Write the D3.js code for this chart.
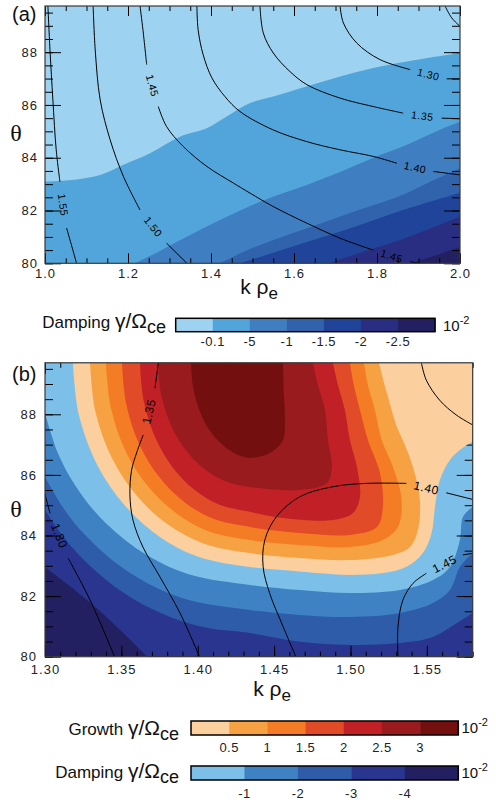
<!DOCTYPE html>
<html><head><meta charset="utf-8">
<script src="https://cdn.jsdelivr.net/npm/d3@7"></script>
<style>
html,body{margin:0;padding:0;background:#fff;}
svg{display:block;font-family:"Liberation Sans",Arial,sans-serif;}
</style></head><body>
<svg id="chart" width="496" height="803"></svg>
<script>
// ================= DATA =================
// ---- panel (a) ----
const kDomainA = [1.0, 2.0];
const thetaDomainA = [80, 89.75];
const kTicksA = [1.0, 1.2, 1.4, 1.6, 1.8, 2.0];
const thetaTicks = [80, 82, 84, 86, 88];
const dampLabelsA = ["-0.1", "-5", "-1", "-1.5", "-2", "-2.5"];
const dampColorsA = ["#9dd3f1", "#52a5db", "#3f7ec1", "#3063ac", "#1f4499", "#292e82", "#222060"];
// band boundaries (k, theta): region below/right of boundary i takes colour i+1
const bandBoundariesA = [
  [[1.0,83.10],[1.064,83.16],[1.133,83.35],[1.189,83.73],[1.253,84.17],[1.325,84.80],[1.390,85.12],[1.438,85.56],[1.494,86.07],[1.550,86.32],[1.630,86.70],[1.711,87.08],[1.791,87.40],[1.872,87.65],[2.0,87.97]],
  [[1.217,80.0],[1.277,80.47],[1.373,81.26],[1.494,82.17],[1.549,82.52],[1.631,82.97],[1.711,83.46],[1.790,83.99],[1.872,84.49],[1.952,85.06],[2.0,85.36]],
  [[1.422,80.0],[1.494,80.54],[1.614,81.23],[1.735,81.91],[1.855,82.55],[1.93,83.1],[2.0,83.6]],
  [[1.47,80.0],[1.55,80.4],[1.65,80.9],[1.75,81.4],[1.85,81.95],[2.0,82.67]],
  [[1.687,80.0],[1.75,80.35],[1.85,80.85],[1.95,81.45],[2.0,81.76]],
  [[1.88,80.0],[1.94,80.3],[2.0,80.62]]
];
// frequency contour lines; label goes into each gap between segments
const contourLinesA = [
  {level:1.55, segments:[[[1.007,89.75],[1.012,88.09],[1.019,86.19],[1.027,84.30],[1.036,83.09]],[[1.052,81.34],[1.065,80.62],[1.076,80.0]]]},
  {level:1.50, segments:[[[1.116,89.75],[1.121,88.09],[1.133,86.19],[1.157,84.68],[1.189,83.29],[1.229,82.02]],[[1.293,80.76],[1.342,80.0]]]},
  {level:1.45, segments:[[[1.229,89.75],[1.236,88.85],[1.245,87.53]],[[1.273,85.94],[1.293,85.18],[1.333,84.43],[1.390,83.67],[1.454,83.04],[1.494,82.66],[1.550,82.15],[1.631,81.52],[1.711,80.95],[1.791,80.50]],[[1.880,80.06],[1.904,80.0]]]},
  {level:1.40, segments:[[[1.366,89.75],[1.369,88.85],[1.381,87.91],[1.402,87.03],[1.434,86.31],[1.470,85.75],[1.549,85.06],[1.631,84.61],[1.711,84.30],[1.791,84.05],[1.848,83.79]],[[1.936,83.48],[2.0,83.35]]]},
  {level:1.35, segments:[[[1.518,89.75],[1.526,88.73],[1.550,87.97],[1.590,87.27],[1.631,86.77],[1.711,86.26],[1.791,85.94],[1.863,85.69]],[[1.956,85.50],[2.0,85.48]]]},
  {level:1.30, segments:[[[1.711,89.75],[1.719,89.11],[1.751,88.35],[1.807,87.72],[1.880,87.34]],[[1.968,86.99],[2.0,86.99]]]},
  {level:1.25, segments:[[[1.964,89.75],[1.980,89.30],[2.0,88.98]]]}
];

// ---- panel (b) ----
const kDomainB = [1.30, 1.58];
const thetaDomainB = [80, 89.7];
const kTicksB = [1.30, 1.35, 1.40, 1.45, 1.50, 1.55];
const growthLabels = ["0.5", "1", "1.5", "2", "2.5", "3"];
const growthColors = ["#fccf9e", "#f6a243", "#f47c24", "#e14b27", "#c02026", "#9a1b1e", "#73100f"];
const dampLabelsB = ["-1", "-2", "-3", "-4"];
const dampColorsB = ["#7cc0ea", "#3f82c4", "#2f5ca9", "#29358e", "#222060"];
// growth contours gamma = 0, 0.5, ... 3 (x 1e-2)
const growthBoundaries = [
  {level:0.0, pts:[[1.3183,89.7],[1.3221,88.00],[1.3343,86.32],[1.3524,84.98],[1.3747,83.97],[1.4003,83.30],[1.4342,82.96],[1.4558,82.86],[1.4778,82.76],[1.4996,82.70],[1.5212,82.76],[1.5367,82.97],[1.5474,83.42],[1.5531,84.08],[1.5553,84.94],[1.5585,85.83],[1.5651,86.49],[1.5716,86.82],[1.58,87.10]]},
  {level:0.5, pts:[[1.3295,89.7],[1.3329,88.11],[1.3439,86.55],[1.3603,85.30],[1.3805,84.36],[1.4037,83.74],[1.4342,83.42],[1.4669,83.26],[1.4996,83.19],[1.5278,83.36],[1.5389,83.62],[1.5441,84.18],[1.5454,85.17],[1.5409,86.26],[1.5356,86.99],[1.5304,87.58],[1.5238,88.70],[1.5186,89.7]]},
  {level:1.0, pts:[[1.3399,89.7],[1.3431,88.22],[1.3530,86.76],[1.3678,85.60],[1.3861,84.73],[1.4070,84.14],[1.4342,83.85],[1.4669,83.69],[1.4996,83.62],[1.5212,83.85],[1.5310,84.28],[1.5335,85.17],[1.5278,86.26],[1.5204,87.15],[1.5160,88.14],[1.5114,88.97],[1.5088,89.7]]},
  {level:1.5, pts:[[1.3504,89.7],[1.3532,88.33],[1.3620,86.98],[1.3753,85.90],[1.3916,85.09],[1.4103,84.55],[1.4342,84.28],[1.4669,84.08],[1.4996,84.02],[1.5173,84.28],[1.5212,84.94],[1.5193,86.06],[1.5114,87.15],[1.5062,88.14],[1.5022,88.97],[1.4996,89.7]]},
  {level:2.0, pts:[[1.3622,89.7],[1.3646,88.45],[1.3723,87.22],[1.3837,86.24],[1.3978,85.51],[1.4139,85.02],[1.4342,84.78],[1.4558,84.58],[1.4885,84.51],[1.5016,84.74],[1.5062,85.27],[1.5042,86.26],[1.4996,87.15],[1.4963,88.14],[1.4918,88.97],[1.4885,89.7]]},
  {level:2.5, pts:[[1.3740,89.7],[1.3760,88.66],[1.3825,87.64],[1.3921,86.82],[1.4040,86.21],[1.4176,85.80],[1.4342,85.60],[1.4669,85.50],[1.4846,85.73],[1.4878,86.26],[1.4852,87.15],[1.4833,88.14],[1.4787,88.97],[1.4754,89.7]]},
  {level:3.0, pts:[[1.3956,89.7],[1.3969,88.90],[1.4012,88.12],[1.4075,87.49],[1.4154,87.03],[1.4244,86.71],[1.4342,86.56],[1.4473,86.72],[1.4558,87.15],[1.4571,87.81],[1.4564,88.64],[1.4558,89.7]]}
];
// damping contours gamma = -1, -2, -3, -4 (x 1e-2); region above/right is less damped
const dampBoundaries = [
  {level:-4, pts:[[1.300,82.96],[1.3275,81.87],[1.3478,80.95],[1.3687,79.9]]},
  {level:-3, pts:[[1.300,84.84],[1.3130,83.89],[1.3292,83.01],[1.3511,82.12],[1.3772,81.41],[1.4049,80.96],[1.4342,80.78],[1.4669,80.49],[1.4996,80.39],[1.5323,80.45],[1.5539,80.65],[1.5697,81.11],[1.58,81.44]]},
  {level:-2, pts:[[1.300,85.93],[1.3135,84.80],[1.3269,83.98],[1.3445,83.17],[1.3700,82.35],[1.3941,81.87],[1.4342,81.54],[1.4669,81.38],[1.4996,81.31],[1.5323,81.44],[1.5539,81.77],[1.5651,82.20],[1.5716,82.96],[1.58,83.42]]},
  {level:-1, pts:[[1.300,88.04],[1.3082,86.75],[1.3197,85.66],[1.3368,84.56],[1.3632,83.46],[1.3935,82.73],[1.4342,82.37],[1.4669,82.20],[1.4996,82.10],[1.5323,82.20],[1.5539,82.53],[1.5651,82.96],[1.5716,83.85],[1.5736,84.61],[1.58,84.95]]}
];
const contourLinesB = [
  {level:1.30, segments:[[[1.2995,85.45],[1.3033,84.73]],[[1.3152,83.25],[1.3295,81.87],[1.3458,79.97]]]},
  {level:1.35, segments:[[[1.4014,79.97],[1.3884,81.44],[1.3753,82.63],[1.3641,83.62],[1.3576,84.51],[1.3556,85.34],[1.3567,86.16],[1.3602,86.76],[1.3643,87.32]],[[1.3720,88.86],[1.3742,89.7]]]},
  {level:1.40, segments:[[[1.4646,79.95],[1.4559,80.99],[1.4471,82.09],[1.4428,82.97],[1.4439,83.85],[1.4515,84.62],[1.4668,85.28],[1.4885,85.61],[1.5104,85.72],[1.5366,85.72]],[[1.5627,85.41],[1.58,85.19]]]},
  {level:1.45, segments:[[[1.5311,79.95],[1.5311,80.99],[1.5343,81.87],[1.5409,82.42],[1.5496,82.75]],[[1.5736,83.36],[1.58,83.41]]]},
  {level:1.35, segments:[[[1.5464,89.7],[1.5496,89.13],[1.5583,88.47],[1.5692,87.98],[1.58,87.65]]]}
];

// ================= DRAWING =================
const svg = d3.select("#chart");

function makePanel(id, kDom, tDom, left, right, top, bottom) {
  const x = d3.scaleLinear().domain(kDom).range([left, right]);
  const y = d3.scaleLinear().domain(tDom).range([bottom, top]);
  const g = svg.append("g");
  g.append("clipPath").attr("id", id).append("rect")
    .attr("x", left).attr("y", top).attr("width", right - left).attr("height", bottom - top);
  const smooth = d3.line().x(d => x(d[0])).y(d => y(d[1])).curve(d3.curveCatmullRom.alpha(0.5));
  const region = (pts, closers) => smooth(pts) + closers.map(c => `L${x(c[0])},${y(c[1])}`).join("") + "Z";
  return {x, y, g, smooth, region, left, right, top, bottom, id};
}

function fillLayer(P) {
  return P.g.append("g").attr("clip-path", `url(#${P.id})`);
}

function drawAxes(P, o) {
  const layer = P.g.append("g");
  const strip = s => s.select(".domain").remove();
  const fmt = "";
  const add = (axis, tr) => layer.append("g").attr("transform", tr).call(axis).call(strip)
    .call(s => s.selectAll("line").attr("stroke", "#000").attr("stroke-width", 1));
  // minor ticks
  add(d3.axisBottom(P.x).tickValues(o.xMinor).tickSizeInner(-o.xMinorLen).tickSizeOuter(0).tickFormat(fmt), `translate(0,${P.bottom})`);
  add(d3.axisTop(P.x).tickValues(o.xMinor).tickSizeInner(-o.xMinorLen).tickSizeOuter(0).tickFormat(fmt), `translate(0,${P.top})`);
  add(d3.axisLeft(P.y).tickValues(o.yMinor).tickSizeInner(-o.yMinorLen).tickSizeOuter(0).tickFormat(fmt), `translate(${P.left},0)`);
  add(d3.axisRight(P.y).tickValues(o.yMinor).tickSizeInner(-o.yMinorLen).tickSizeOuter(0).tickFormat(fmt), `translate(${P.right},0)`);
  // major ticks
  const bx = add(d3.axisBottom(P.x).tickValues(o.xMajor).tickSizeInner(-o.xMajorLen).tickSizeOuter(0).tickPadding(o.xPad).tickFormat(d3.format(o.xFmt)), `translate(0,${P.bottom})`);
  add(d3.axisTop(P.x).tickValues(o.xMajor).tickSizeInner(-o.xMajorLen).tickSizeOuter(0).tickFormat(fmt), `translate(0,${P.top})`);
  const ly = add(d3.axisLeft(P.y).tickValues(o.yMajor).tickSizeInner(-o.yMajorLen).tickSizeOuter(0).tickPadding(o.yPad).tickFormat(d3.format("d")), `translate(${P.left},0)`);
  add(d3.axisRight(P.y).tickValues(o.yMajor).tickSizeInner(-o.yMajorLen).tickSizeOuter(0).tickFormat(fmt), `translate(${P.right},0)`);
  [bx, ly].forEach(s => s.attr("font-family", "'Liberation Sans', Arial, sans-serif").attr("font-size", 13)
    .selectAll("text").attr("fill", "#222").attr("letter-spacing", "1px"));
}

function drawContours(P, lines, fontSize) {
  const layer = P.g.append("g").attr("clip-path", `url(#${P.id})`);
  lines.forEach(c => {
    c.segments.forEach(seg => {
      layer.append("path").attr("d", P.smooth(seg)).attr("fill", "none")
        .attr("stroke", "#000").attr("stroke-width", 1);
    });
    for (let i = 0; i < c.segments.length - 1; i++) {
      const a = c.segments[i][c.segments[i].length - 1], b = c.segments[i + 1][0];
      const ax = P.x(a[0]), ay = P.y(a[1]), bx = P.x(b[0]), by = P.y(b[1]);
      const ang = Math.atan2(by - ay, bx - ax) * 180 / Math.PI;
      layer.append("text")
        .attr("transform", `translate(${(ax + bx) / 2},${(ay + by) / 2}) rotate(${ang})`)
        .attr("text-anchor", "middle").attr("dominant-baseline", "central")
        .attr("font-size", fontSize).attr("letter-spacing", "0.5px").attr("fill", "#000")
        .text(d3.format(".2f")(c.level));
    }
  });
}

function drawFrame(P) {
  P.g.append("rect").attr("x", P.left).attr("y", P.top)
    .attr("width", P.right - P.left).attr("height", P.bottom - P.top)
    .attr("fill", "none").attr("stroke", "#3a3a3a").attr("stroke-width", 1.2);
}

function colorbar(colors, labels, x0, x1, y0, h, labelBaseline) {
  const band = d3.scaleBand().domain(d3.range(colors.length)).range([x0, x1]);
  const g = svg.append("g");
  g.selectAll("rect.c").data(colors).join("rect").attr("class", "c")
    .attr("x", (d, i) => band(i)).attr("y", y0).attr("width", band.bandwidth() + 0.5).attr("height", h)
    .attr("fill", d => d);
  g.append("rect").attr("x", x0).attr("y", y0).attr("width", x1 - x0).attr("height", h)
    .attr("fill", "none").attr("stroke", "#000").attr("stroke-width", 1.5);
  g.selectAll("text").data(labels).join("text")
    .attr("x", (d, i) => band(i + 1)).attr("y", labelBaseline)
    .attr("text-anchor", "middle").attr("font-size", 13).attr("letter-spacing", "0.5px").attr("fill", "#222")
    .text(d => d);
}

function cbTitle(word, xEnd, baseline) {
  const t = svg.append("text").attr("x", xEnd).attr("y", baseline).attr("text-anchor", "end").attr("fill", "#111");
  t.append("tspan").attr("font-size", 17).text(word + " ");
  t.append("tspan").attr("font-size", 21).text("\u03b3/\u03a9");
  t.append("tspan").attr("font-size", 18).attr("dy", 5).text("ce");
}
function exponent(x, baseline) {
  const t = svg.append("text").attr("x", x).attr("y", baseline).attr("fill", "#111");
  t.append("tspan").attr("font-size", 15).text("10");
  t.append("tspan").attr("font-size", 11).attr("dy", -7).text("-2");
}
function axisTitle(xc, baseline) {
  const t = svg.append("text").attr("x", xc).attr("y", baseline).attr("text-anchor", "middle").attr("fill", "#111");
  t.append("tspan").attr("font-size", 21).text("k \u03c1");
  t.append("tspan").attr("font-size", 17).attr("dy", 5).text("e");
}
function thetaTitle(x, baseline) {
  svg.append("text").attr("x", x).attr("y", baseline).attr("text-anchor", "middle")
    .attr("font-family", "'Liberation Serif', 'Times New Roman', serif").attr("font-size", 24).attr("fill", "#111")
    .text("\u03b8");
}
function panelTag(s, x, baseline) {
  svg.append("text").attr("x", x).attr("y", baseline).attr("font-size", 20).attr("fill", "#111").text(s);
}

// ---------- Panel (a) ----------
const A = makePanel("clipA", kDomainA, thetaDomainA, 45, 460, 6, 263.3);
{
  const fl = fillLayer(A);
  const [k0, k1] = kDomainA, [t0, t1] = thetaDomainA;
  fl.append("rect").attr("x", A.left).attr("y", A.top).attr("width", A.right - A.left)
    .attr("height", A.bottom - A.top).attr("fill", dampColorsA[0]);
  bandBoundariesA.forEach((pts, i) => {
    fl.append("path").attr("d", A.region(pts, [[k1, t0], [k0, t0]])).attr("fill", dampColorsA[i + 1]);
  });
  drawContours(A, contourLinesA, 10.5);
  drawAxes(A, {
    xMajor: kTicksA, xMinor: d3.range(1.0, 2.0001, 0.05), xMajorLen: 10, xMinorLen: 5, xPad: 5, xFmt: ".1f",
    yMajor: thetaTicks, yMinor: d3.range(80, 89.76, 0.5), yMajorLen: 16, yMinorLen: 8, yPad: 7
  });
  drawFrame(A);
}
panelTag("(a)", 12, 21);
thetaTitle(16, 141);
axisTitle(259, 294);
cbTitle("Damping", 166, 328);
colorbar(dampColorsA, dampLabelsA, 175.7, 435, 318.3, 13.4, 346);
exponent(443, 331);

// ---------- Panel (b) ----------
const B = makePanel("clipB", kDomainB, thetaDomainB, 45, 472.7, 362.8, 656.7);
{
  const [k0, k1] = kDomainB, [t0, t1] = thetaDomainB;
  const dl = fillLayer(B);
  dl.append("rect").attr("x", B.left).attr("y", B.top).attr("width", B.right - B.left)
    .attr("height", B.bottom - B.top).attr("fill", dampColorsB[dampColorsB.length - 1]);
  dampBoundaries.forEach(b => {
    dl.append("path").attr("d", B.region(b.pts, [[k1, t0], [k1, t1], [k0, t1]]))
      .attr("fill", dampColorsB[-b.level - 1]);
  });
  drawAxes(B, {
    xMajor: kTicksB, xMinor: d3.range(1.30, 1.5801, 0.01), xMajorLen: 11, xMinorLen: 5, xPad: 8, xFmt: ".2f",
    yMajor: thetaTicks, yMinor: d3.range(80, 89.71, 0.5), yMajorLen: 16, yMinorLen: 8, yPad: 8
  });
  const gl = fillLayer(B);
  growthBoundaries.forEach((b, i) => {
    gl.append("path").attr("d", B.region(b.pts, [[k1, t1]])).attr("fill", growthColors[i]);
  });
  drawContours(B, contourLinesB, 12);
  drawFrame(B);
}
panelTag("(b)", 12, 381);
thetaTitle(16, 517);
axisTitle(272, 696);
cbTitle("Growth", 179, 735);
colorbar(growthColors, growthLabels, 191, 458.3, 721, 14, 752);
exponent(461.5, 733);
cbTitle("Damping", 179, 778);
colorbar(dampColorsB, dampLabelsB, 191, 458.3, 766, 14, 797.5);
exponent(461.5, 778);
</script>
</body></html>
